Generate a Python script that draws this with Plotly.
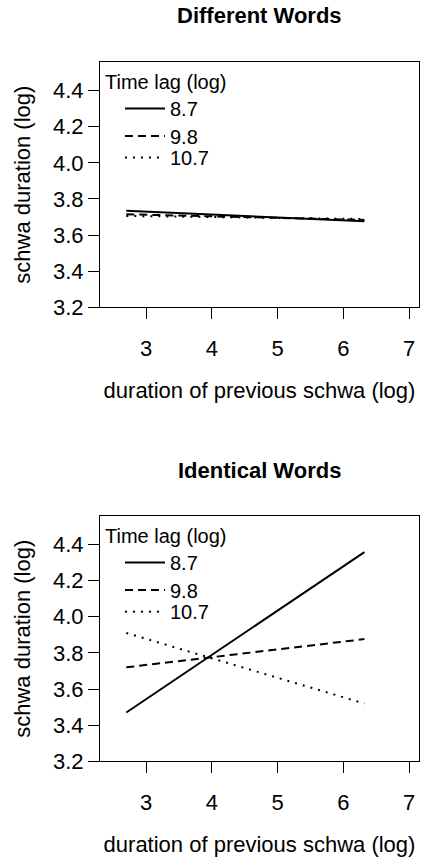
import plotly.graph_objects as go

# ---- data ----
lag_labels = ["8.7", "9.8", "10.7"]
x_ends = [2.7, 6.32]
diff_87 = [3.735, 3.676]
diff_98 = [3.715, 3.684]
diff_107 = [3.706, 3.689]
ident_87 = [3.47, 4.357]
ident_98 = [3.72, 3.876]
ident_107 = [3.91, 3.52]
panel_titles = ["Different Words", "Identical Words"]
x_ticks = [3, 4, 5, 6, 7]
y_ticks = [3.2, 3.4, 3.6, 3.8, 4.0, 4.2, 4.4]
x_title = "duration of previous schwa (log)"
y_title = "schwa duration (log)"
legend_title = "Time lag (log)"

FONT = "Liberation Sans, Arial, Helvetica, sans-serif"
dashes = ["solid", "8px,5px", "2px,6px"]

W, H = 421, 865
def px_x(p):
    return p / W
def px_y(p):
    return 1 - p / H

fig = go.Figure()

# one legend per entry so the entries can sit as tightly as in the reference
panels = [
    ("x", "y", ["legend", "legend3", "legend4"], [diff_87, diff_98, diff_107]),
    ("x2", "y2", ["legend2", "legend5", "legend6"], [ident_87, ident_98, ident_107]),
]
for xa, ya, lgs, series in panels:
    for lab, vals, d, lg in zip(lag_labels, series, dashes, lgs):
        fig.add_trace(go.Scatter(
            x=x_ends, y=vals, mode="lines", name=lab,
            xaxis=xa, yaxis=ya, legend=lg,
            line=dict(color="black", width=2, dash=d),
        ))

axis_common = dict(
    showgrid=False, zeroline=False, showline=True, mirror=True,
    linecolor="black", linewidth=1, ticks="outside", ticklen=11,
    tickcolor="black", tickwidth=1,
    tickfont=dict(family=FONT, size=22, color="black"),
)

xdom = [px_x(100), px_x(419)]
top_dom = [px_y(312), px_y(63)]
bot_dom = [px_y(773), px_y(524)]

leg_common = dict(xanchor="left", bgcolor="rgba(0,0,0,0)", borderwidth=0,
                  indentation=17, itemwidth=40,
                  font=dict(family=FONT, size=20, color="black"))
LX = px_x(103)

fig.update_layout(
    width=W, height=H,
    margin=dict(l=0, r=0, t=0, b=0),
    paper_bgcolor="white", plot_bgcolor="white",
    font=dict(family=FONT, color="black"),
    xaxis=dict(domain=xdom, anchor="y", range=[2.30, 7.15], tickvals=x_ticks,
               ticklabelstandoff=10,
               title=dict(text=x_title, font=dict(family=FONT, size=22), standoff=22),
               **axis_common),
    yaxis=dict(domain=top_dom, anchor="x", range=[3.2, 4.558], tickvals=y_ticks,
               tickformat=".1f",
               title=dict(text=y_title, font=dict(family=FONT, size=22), standoff=16),
               **axis_common),
    xaxis2=dict(domain=xdom, anchor="y2", range=[2.30, 7.15], tickvals=x_ticks,
                ticklabelstandoff=10,
                title=dict(text=x_title, font=dict(family=FONT, size=22), standoff=22),
                **axis_common),
    yaxis2=dict(domain=bot_dom, anchor="x2", range=[3.2, 4.556], tickvals=y_ticks,
                tickformat=".1f",
                title=dict(text=y_title, font=dict(family=FONT, size=22), standoff=16),
                **axis_common),
    legend=dict(x=LX, y=px_y(64), yanchor="top",
                title=dict(text=legend_title, font=dict(family=FONT, size=20)),
                **leg_common),
    legend3=dict(x=LX, y=px_y(138), yanchor="middle", **leg_common),
    legend4=dict(x=LX, y=px_y(160), yanchor="middle", **leg_common),
    legend2=dict(x=LX, y=px_y(525), yanchor="top",
                 title=dict(text=legend_title, font=dict(family=FONT, size=20)),
                 **leg_common),
    legend5=dict(x=LX, y=px_y(599), yanchor="middle", **leg_common),
    legend6=dict(x=LX, y=px_y(621), yanchor="middle", **leg_common),
    showlegend=True,
)

for t, yc in zip(panel_titles, [16, 478]):
    fig.add_annotation(text=t, xref="paper", yref="paper",
                       x=(xdom[0] + xdom[1]) / 2, y=px_y(yc),
                       xanchor="center", yanchor="middle", showarrow=False,
                       font=dict(family=FONT, size=22, color="black", weight="bold"))

fig.write_html("out.html", config={"displayModeBar": False},
               post_script="document.body.style.margin='0';document.body.style.overflow='hidden';")
